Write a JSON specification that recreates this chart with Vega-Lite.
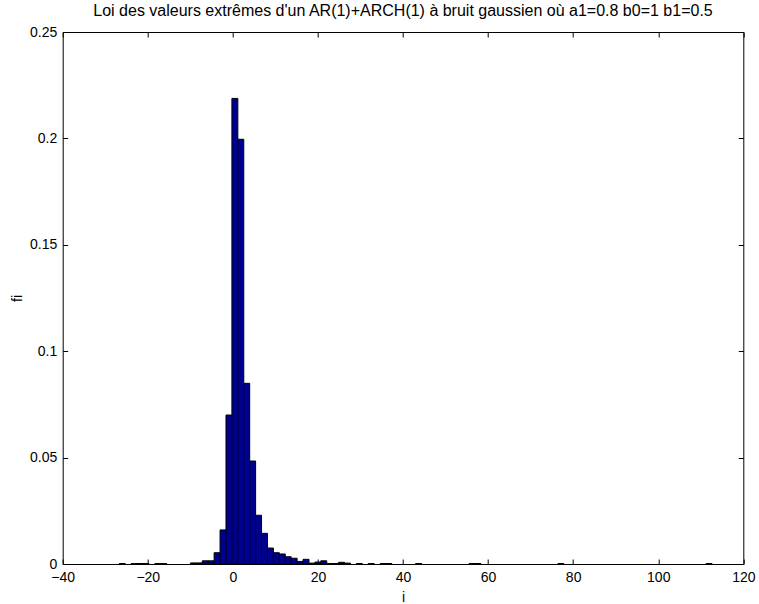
{
  "$schema": "https://vega.github.io/schema/vega-lite/v6.json",
  "width": 680.6,
  "height": 532,
  "autosize": "none",
  "padding": {"left": 62.7, "top": 32, "right": 15.7, "bottom": 40},
  "background": "white",
  "title": {
    "text": "Loi des valeurs extrêmes d'un AR(1)+ARCH(1) à bruit gaussien où a1=0.8 b0=1 b1=0.5",
    "font": "Liberation Sans",
    "fontSize": 16,
    "fontWeight": "normal",
    "color": "black",
    "anchor": "middle",
    "offset": 6
  },
  "config": {
    "view": {"stroke": "black", "strokeWidth": 1},
    "font": "Liberation Sans"
  },
  "data": {
    "values": [
      {"lo": -26.697, "hi": -25.303, "fi": 0.0002},
      {"lo": -23.910, "hi": -22.516, "fi": 0.0002},
      {"lo": -22.516, "hi": -21.123, "fi": 0.0002},
      {"lo": -21.123, "hi": -19.729, "fi": 0.0002},
      {"lo": -18.336, "hi": -16.942, "fi": 0.0002},
      {"lo": -16.942, "hi": -15.549, "fi": 0.0002},
      {"lo": -9.975, "hi": -8.581, "fi": 0.0005},
      {"lo": -8.581, "hi": -7.188, "fi": 0.0005},
      {"lo": -7.188, "hi": -5.794, "fi": 0.0015},
      {"lo": -5.794, "hi": -4.401, "fi": 0.0015},
      {"lo": -4.401, "hi": -3.007, "fi": 0.0053},
      {"lo": -3.007, "hi": -1.614, "fi": 0.016},
      {"lo": -1.614, "hi": -0.220, "fi": 0.070},
      {"lo": -0.220, "hi": 1.173, "fi": 0.2188},
      {"lo": 1.173, "hi": 2.567, "fi": 0.1996},
      {"lo": 2.567, "hi": 3.960, "fi": 0.0849},
      {"lo": 3.960, "hi": 5.354, "fi": 0.0484},
      {"lo": 5.354, "hi": 6.747, "fi": 0.0229},
      {"lo": 6.747, "hi": 8.141, "fi": 0.0144},
      {"lo": 8.141, "hi": 9.534, "fi": 0.0075},
      {"lo": 9.534, "hi": 10.928, "fi": 0.0053},
      {"lo": 10.928, "hi": 12.321, "fi": 0.0047},
      {"lo": 12.321, "hi": 13.715, "fi": 0.0034},
      {"lo": 13.715, "hi": 15.108, "fi": 0.0027},
      {"lo": 15.108, "hi": 16.502, "fi": 0.0012},
      {"lo": 16.502, "hi": 17.895, "fi": 0.0022},
      {"lo": 17.895, "hi": 19.289, "fi": 0.0004},
      {"lo": 19.289, "hi": 20.682, "fi": 0.0009},
      {"lo": 20.682, "hi": 22.076, "fi": 0.0015},
      {"lo": 22.076, "hi": 23.469, "fi": 0.0002},
      {"lo": 23.469, "hi": 24.863, "fi": 0.0002},
      {"lo": 24.863, "hi": 26.256, "fi": 0.0008},
      {"lo": 26.256, "hi": 27.650, "fi": 0.0004},
      {"lo": 29.043, "hi": 30.437, "fi": 0.0002},
      {"lo": 31.830, "hi": 33.224, "fi": 0.0002},
      {"lo": 34.617, "hi": 36.011, "fi": 0.0002},
      {"lo": 36.011, "hi": 37.404, "fi": 0.0002},
      {"lo": 42.978, "hi": 44.372, "fi": 0.0002},
      {"lo": 55.520, "hi": 56.913, "fi": 0.0002},
      {"lo": 56.913, "hi": 58.307, "fi": 0.0002},
      {"lo": 76.422, "hi": 77.816, "fi": 0.0002},
      {"lo": 111.260, "hi": 112.653, "fi": 0.0002}
    ]
  },
  "layer": [
    {
      "mark": {"type": "bar", "fill": "#00008F", "stroke": "black", "strokeWidth": 1},
      "encoding": {
        "x": {
          "field": "lo", "type": "quantitative",
          "scale": {"domain": [-40, 120], "nice": false, "zero": false},
          "axis": {
            "orient": "bottom",
            "values": [-40, -20, 0, 20, 40, 60, 80, 100, 120],
            "format": "~f",
            "domain": false, "grid": false,
            "tickSize": -5, "tickColor": "black", "tickWidth": 1,
            "labelFont": "Liberation Sans", "labelFontSize": 14, "labelColor": "black",
            "labelFlush": false, "labelOverlap": false, "labelPadding": 11,
            "title": "i", "titleFont": "Liberation Sans", "titleFontSize": 14,
            "titleFontWeight": "normal", "titleColor": "black", "titlePadding": 6
          }
        },
        "x2": {"field": "hi"},
        "y": {
          "field": "fi", "type": "quantitative",
          "scale": {"domain": [0, 0.25], "nice": false},
          "axis": {
            "orient": "left",
            "values": [0, 0.05, 0.1, 0.15, 0.2, 0.25],
            "format": "~f",
            "domain": false, "grid": false,
            "tickSize": -5, "tickColor": "black", "tickWidth": 1,
            "labelFont": "Liberation Sans", "labelFontSize": 14, "labelColor": "black",
            "labelFlush": false, "labelOverlap": false, "labelPadding": 11,
            "title": "fi", "titleFont": "Liberation Sans", "titleFontSize": 14,
            "titleFontWeight": "normal", "titleColor": "black", "titlePadding": 5
          }
        },
        "y2": {"datum": 0}
      }
    },
    {
      "mark": {"type": "bar", "opacity": 0},
      "encoding": {
        "x": {
          "field": "lo", "type": "quantitative",
          "scale": {"domain": [-40, 120], "nice": false, "zero": false},
          "axis": {
            "orient": "top",
            "values": [-40, -20, 0, 20, 40, 60, 80, 100, 120],
            "domain": false, "grid": false, "labels": false,
            "tickSize": -5, "tickColor": "black", "tickWidth": 1,
            "title": null
          }
        },
        "x2": {"field": "hi"},
        "y": {
          "field": "fi", "type": "quantitative",
          "scale": {"domain": [0, 0.25], "nice": false},
          "axis": {
            "orient": "right",
            "values": [0, 0.05, 0.1, 0.15, 0.2, 0.25],
            "domain": false, "grid": false, "labels": false,
            "tickSize": -5, "tickColor": "black", "tickWidth": 1,
            "title": null
          }
        },
        "y2": {"datum": 0}
      }
    }
  ],
  "resolve": {"axis": {"x": "independent", "y": "independent"}}
}
